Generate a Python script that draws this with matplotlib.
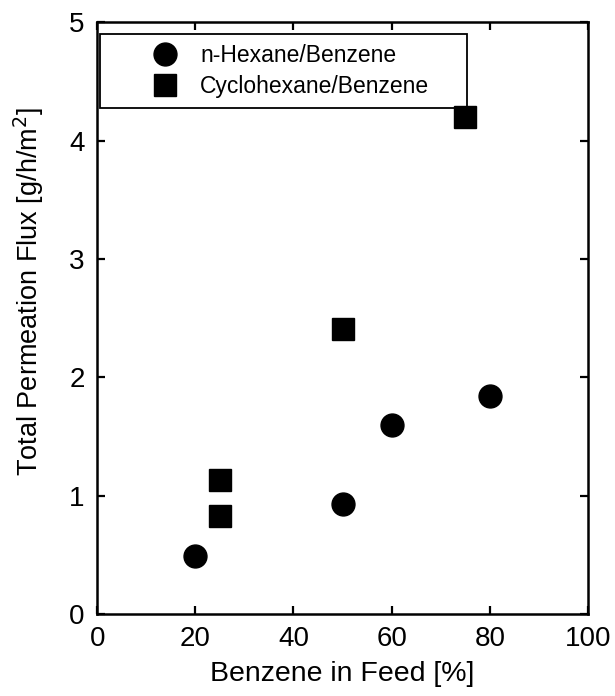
import matplotlib.pyplot as plt

# Example data
hexane_feed = [20, 50, 60, 80]
hexane_flux = [0.49, 0.93, 1.60, 1.84]
cyclo_feed = [25, 25, 50, 75]
cyclo_flux = [0.83, 1.13, 2.41, 4.20]

plt.rcParams['font.family'] = ['Liberation Sans', 'DejaVu Sans']

fig = plt.figure(figsize=(6.15, 6.96), dpi=100)
ax = fig.add_axes([0.158, 0.118, 0.798, 0.850])

ax.plot(hexane_feed, hexane_flux, 'o', color='black', markersize=16.5,
        label='n-Hexane/Benzene', zorder=10)
ax.plot(cyclo_feed, cyclo_flux, 's', color='black', markersize=15.5,
        label='Cyclohexane/Benzene', zorder=10)

ax.set_xlim(0, 100)
ax.set_ylim(0, 5)
ax.set_xticks([0, 20, 40, 60, 80, 100])
ax.set_yticks([0, 1, 2, 3, 4, 5])
ax.tick_params(direction='in', top=True, right=True, length=6, width=1.6, labelsize=20)
ax.tick_params(axis='x', pad=9)
ax.tick_params(axis='y', pad=9)
for s in ax.spines.values():
    s.set_linewidth(1.8)

ax.set_xlabel('Benzene in Feed [%]', fontsize=20.5)
ax.set_ylabel('Total Permeation Flux [g/h/m$^2$]', fontsize=19.5)
ax.xaxis.set_label_coords(0.5, -0.080)
ax.yaxis.set_label_coords(-0.105, 0.545)

leg = ax.legend(loc='upper left', bbox_to_anchor=(0.006, 0.0, 0.748, 0.980), mode='expand',
                fontsize=16.5, frameon=True, fancybox=False, edgecolor='black',
                framealpha=1, borderpad=0.42, borderaxespad=0, handlelength=4.8,
                handletextpad=-0.85, labelspacing=0.38, numpoints=1)
leg.get_frame().set_linewidth(1.3)
leg.set_zorder(5)

plt.savefig('out.png')
